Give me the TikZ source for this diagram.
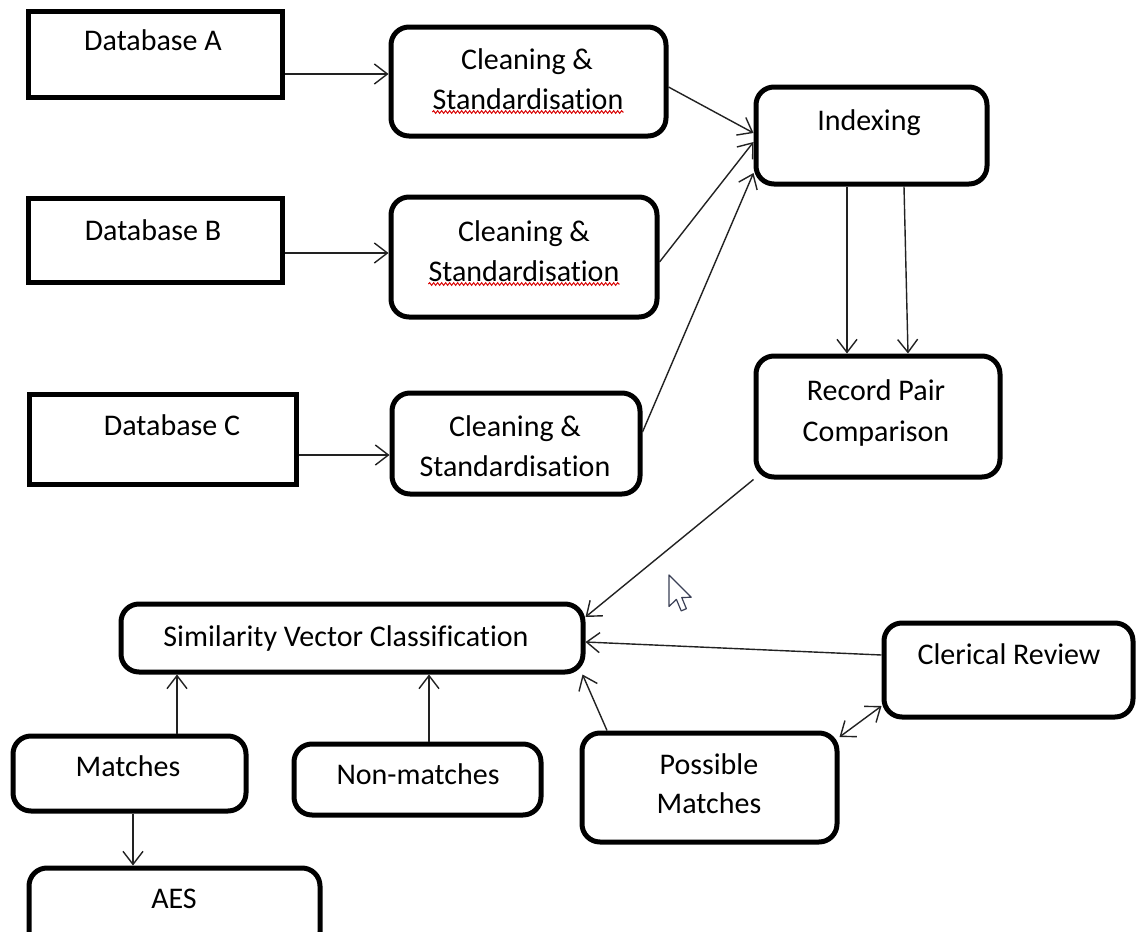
\documentclass[tikz,border=0pt]{standalone}
\usepackage{fontspec}
\setmainfont{Carlito}[Ligatures=NoCommon]
\usetikzlibrary{arrows.meta,decorations.pathmorphing}
\definecolor{cursorcol}{HTML}{3A3F55}
\definecolor{arrcol}{HTML}{222222}
\begin{document}
\begin{tikzpicture}[x=1pt,y=-1pt,
  sqbox/.style={draw, line width=5pt, inner sep=0pt},
  rbox/.style={sqbox, rounded corners=18pt},
  txt/.style={font=\fontsize{30}{36}\selectfont, anchor=base, inner sep=0pt, text=black},
  arr/.style={draw=arrcol, line width=1.4pt, -{Straight Barb[length=13pt,width=20pt,line width=1.4pt]}},
  darr/.style={draw=arrcol, line width=1.4pt, {Straight Barb[length=13pt,width=20pt,line width=1.4pt]}-{Straight Barb[length=13pt,width=20pt,line width=1.4pt]}},
  squig/.style={draw=red!85!black, line width=1pt, decorate, decoration={snake, amplitude=1.3pt, segment length=4pt}}
]
\useasboundingbox (0,0) rectangle (1136,932);
\clip (0,0) rectangle (1136,932);
\fill[white] (0,0) rectangle (1136,932);

% boxes
\node[sqbox, minimum width=254pt, minimum height=86pt] (dbA) at (155,54) {};
\node[rbox, minimum width=275pt, minimum height=109pt] (c1) at (528.5,81.5) {};
\node[sqbox, minimum width=254pt, minimum height=84pt] (dbB) at (155,240) {};
\node[rbox, minimum width=266pt, minimum height=120pt] (c2) at (524,257) {};
\node[sqbox, minimum width=267pt, minimum height=90pt] (dbC) at (162.5,439) {};
\node[rbox, minimum width=248pt, minimum height=101pt] (c3) at (516,443.5) {};
\node[rbox, minimum width=231pt, minimum height=97pt] (idx) at (871.5,135.5) {};
\node[rbox, minimum width=244pt, minimum height=121pt] (rpc) at (878,416.5) {};
\node[rbox, minimum width=462pt, minimum height=68pt] (svc) at (352,638) {};
\node[rbox, minimum width=249pt, minimum height=94pt] (cler) at (1008.5,670) {};
\node[rbox, minimum width=233pt, minimum height=75pt] (mat) at (129.5,773.5) {};
\node[rbox, minimum width=247pt, minimum height=71pt] (non) at (417.5,779.5) {};
\node[rbox, minimum width=255pt, minimum height=109pt] (poss) at (709.5,787.5) {};
\node[rbox, minimum width=291pt, minimum height=82pt] (aes) at (174.5,909) {};

% texts
\node[txt] (tdbA) at (153,50) {Database A};
\node[txt] (c1a) at (527,69) {Cleaning \&};
\node[txt] (c1b) at (528,109) {Standardisation};
\node[txt] (tdbB) at (153,240) {Database B};
\node[txt] (c2a) at (524,241) {Cleaning \&};
\node[txt] (c2b) at (524,281) {Standardisation};
\node[txt] (tdbC) at (172,435) {Database C};
\node[txt] (c3a) at (515,436) {Cleaning \&};
\node[txt] (c3b) at (515,476) {Standardisation};
\node[txt] (tidx) at (869,130) {Indexing};
\node[txt] (rpca) at (876,400) {Record Pair};
\node[txt] (rpcb) at (876,441) {Comparison};
\node[txt] (tsvc) at (346,646) {Similarity Vector Classification};
\node[txt] (tcler) at (1009,664) {Clerical Review};
\node[txt] (tmat) at (128,776) {Matches};
\node[txt] (tnon) at (418,784) {Non-matches};
\node[txt] (possa) at (709,774) {Possible};
\node[txt] (possb) at (709,813) {Matches};
\node[txt] (taes) at (174,908) {AES};

% spell-check underlines
\draw[squig] ([yshift=-3pt]c1b.base west) -- ([yshift=-3pt]c1b.base east);
\draw[squig] ([yshift=-3pt]c2b.base west) -- ([yshift=-3pt]c2b.base east);

% connectors
\draw[arr] ([yshift=-20pt]dbA.east) -- ([yshift=7.5pt]c1.west);
\draw[arr] ([yshift=-13pt]dbB.east) -- ([yshift=4pt]c2.west);
\draw[arr] ([yshift=-16pt]dbC.east) -- ([yshift=-11.5pt]c3.west);
\draw[arr] ([yshift=-5.5pt]c1.east) -- ([yshift=2.5pt]idx.west);
\draw[arr] ([yshift=-5pt]c2.east) -- ([yshift=-6.5pt]idx.west);
\draw[arr] ([yshift=11.5pt]c3.east) -- ([yshift=-37.5pt]idx.west);
\draw[arr] ([xshift=-24.5pt]idx.south) -- ([xshift=-31pt]rpc.north);
\draw[arr] ([xshift=32.5pt]idx.south) -- ([xshift=30pt]rpc.north);
\draw[arr] (rpc.south west) -- ([yshift=21pt]svc.east);
\draw[arr] ([yshift=15pt]cler.west) -- ([yshift=-4pt]svc.east);
\draw[arr] ([xshift=-102.5pt]poss.north) -- ([xshift=-3pt]svc.south east);
\draw[darr] ([yshift=50.5pt]poss.east) -- ([yshift=-36pt]cler.west);
\draw[arr] ([xshift=47.5pt]mat.north) -- ([xshift=-175pt]svc.south);
\draw[arr] ([xshift=3.5pt]mat.south) -- ([xshift=-41.5pt]aes.north);
\draw[arr] ([xshift=11.5pt]non.north) -- ([xshift=77pt]svc.south);

% mouse cursor
\draw[shift={(669,575)}, scale=1.85, fill=white, draw=cursorcol, line width=1.2pt, line join=round]
  (0,0) -- (0,17) -- (4,13.2) -- (6.6,19.4) -- (9.4,18.2) -- (6.9,12.2) -- (12,12) -- cycle;
\end{tikzpicture}
\end{document}
